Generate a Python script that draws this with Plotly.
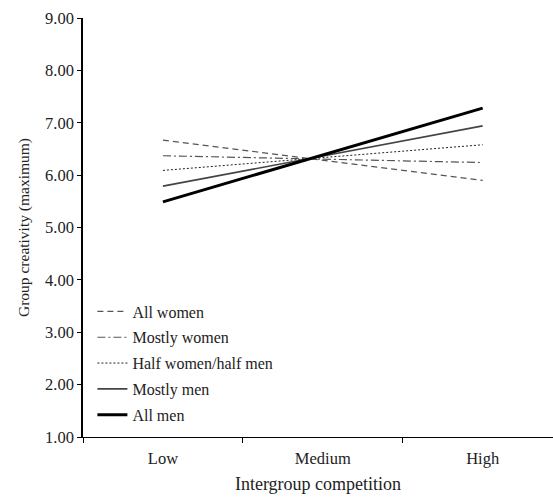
import plotly.graph_objects as go

categories = ["Low", "Medium", "High"]
series_names = ["All women", "Mostly women", "Half women/half men", "Mostly men", "All men"]
low_values = [6.67, 6.37, 6.09, 5.79, 5.49]
high_values = [5.90, 6.24, 6.58, 6.94, 7.28]
y_ticks = [1, 2, 3, 4, 5, 6, 7, 8, 9]
y_tick_labels = ["1.00", "2.00", "3.00", "4.00", "5.00", "6.00", "7.00", "8.00", "9.00"]

styles = [
    dict(color="#555555", width=1.2, dash="6px,4px"),
    dict(color="#555555", width=1.2, dash="8px,3px,2px,3px"),
    dict(color="#222222", width=1.0, dash="2px,2px"),
    dict(color="#444444", width=1.6, dash="solid"),
    dict(color="#000000", width=3.0, dash="solid"),
]

fig = go.Figure()
for i, name in enumerate(series_names):
    fig.add_trace(go.Scatter(
        x=[categories[0], categories[2]],
        y=[low_values[i], high_values[i]],
        mode="lines",
        name=name,
        line=styles[i],
        legendgroup=f"g{i}",
    ))

font_family = "Liberation Serif"
fig.update_layout(
    width=553, height=498,
    margin=dict(l=83, r=0, t=18, b=61),
    paper_bgcolor="white", plot_bgcolor="white",
    font=dict(family=font_family, size=16, color="#222222"),
    showlegend=True,
    legend=dict(
        x=0.02, y=0.34, xanchor="left", yanchor="top",
        font=dict(family=font_family, size=16, color="#222222"),
        bgcolor="rgba(0,0,0,0)",
        tracegroupgap=2,
        itemwidth=30,
    ),
    xaxis=dict(
        type="category",
        categoryorder="array", categoryarray=categories,
        range=[-0.5, 2.44],
        showline=True, linecolor="black", linewidth=1.2,
        showgrid=False, zeroline=False,
        ticks="outside", ticklen=5, tickcolor="black",
        tickson="boundaries",
        ticklabelstandoff=6,
        tickfont=dict(family=font_family, size=16.5, color="#222222"),
        title=dict(text="Intergroup competition", font=dict(family=font_family, size=18, color="#222222"), standoff=10),
    ),
    yaxis=dict(
        range=[1, 9],
        tickvals=y_ticks, ticktext=y_tick_labels,
        showline=True, linecolor="black", linewidth=1.5,
        showgrid=False, zeroline=False,
        ticks="outside", ticklen=4, tickcolor="black",
        tickfont=dict(family=font_family, size=16.5, color="#222222"),
        title=dict(text="Group creativity (maximum)", font=dict(family=font_family, size=15.5, color="#222222"), standoff=12),
    ),
)

fig.write_html("out.html")
